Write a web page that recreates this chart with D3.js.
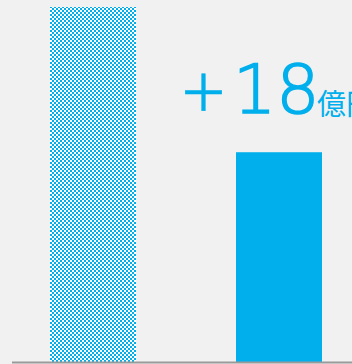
<!DOCTYPE html>
<html>
<head>
<meta charset="utf-8">
<script src="https://cdn.jsdelivr.net/npm/d3@7"></script>
<style>
  html, body { margin: 0; padding: 0; background: #f1f1f1; overflow: hidden; }
  svg { display: block; }
</style>
</head>
<body>
<div id="graph"></div>
<script>
var categories = ["before", "after"]
var values = [44, 26]
var plusLabel = "＋"
var diffLabel = "18"
var unitLabel = "億円"

var width = 352, height = 364
var margin = { top: 7, right: 0, bottom: 2, left: 12 }

var svg = d3.select("#graph").append("svg")
  .attr("width", width)
  .attr("height", height)

// 2px checker for the first bar
var pat = svg.append("defs").append("pattern")
  .attr("id", "checker")
  .attr("patternUnits", "userSpaceOnUse")
  .attr("width", 4)
  .attr("height", 4)
pat.append("rect").attr("width", 4).attr("height", 4).attr("fill", "#ffffff")
pat.append("rect").attr("x", 0).attr("y", 0).attr("width", 2).attr("height", 2).attr("fill", "#00afec")
pat.append("rect").attr("x", 2).attr("y", 2).attr("width", 2).attr("height", 2).attr("fill", "#00afec")

var x = d3.scaleBand()
  .domain(categories)
  .range([50, 322])
  .paddingInner(100 / 186)
  .paddingOuter(0)

var y = d3.scaleLinear()
  .domain([0, d3.max(values)])
  .range([height - margin.bottom, margin.top])

var g = svg.append("g")

g.selectAll("rect.bars").data(values)
  .enter().append("rect")
  .attr("class", "bars")
  .attr("x", function (d, i) { return Math.round(x(categories[i])) })
  .attr("y", function (d) { return y(d) })
  .attr("width", Math.round(x.bandwidth()))
  .attr("height", function (d) { return y(0) - y(d) })
  .style("fill", function (d, i) { return i === 0 ? "url(#checker)" : "#00afec" })

// baseline
svg.append("line")
  .attr("x1", margin.left)
  .attr("x2", width)
  .attr("y1", y(0) + 0.5)
  .attr("y2", y(0) + 0.5)
  .attr("stroke", "#9a9a9a")
  .attr("stroke-width", 2)

var label = svg.append("text")
  .attr("y", 113)
  .style("fill", "#00afec")
label.append("tspan")
  .attr("x", 178.5)
  .attr("y", 111)
  .style("font-family", "'Noto Sans CJK JP', sans-serif")
  .style("font-size", "50px")
  .style("stroke", "#00afec")
  .style("stroke-width", 0.6)
  .text(plusLabel)
label.append("tspan")
  .attr("x", 233)
  .attr("y", 112.5)
  .style("font-family", "'DejaVu Sans', sans-serif")
  .style("font-weight", 200)
  .style("font-size", "68px")
  .style("stroke", "#00afec")
  .style("stroke-width", 1.6)
  .text(diffLabel)
label.append("tspan")
  .attr("x", 317)
  .attr("y", 115)
  .style("font-family", "'Noto Sans CJK JP', sans-serif")
  .style("font-size", "29px")
  .text(unitLabel)
</script>
</body>
</html>
